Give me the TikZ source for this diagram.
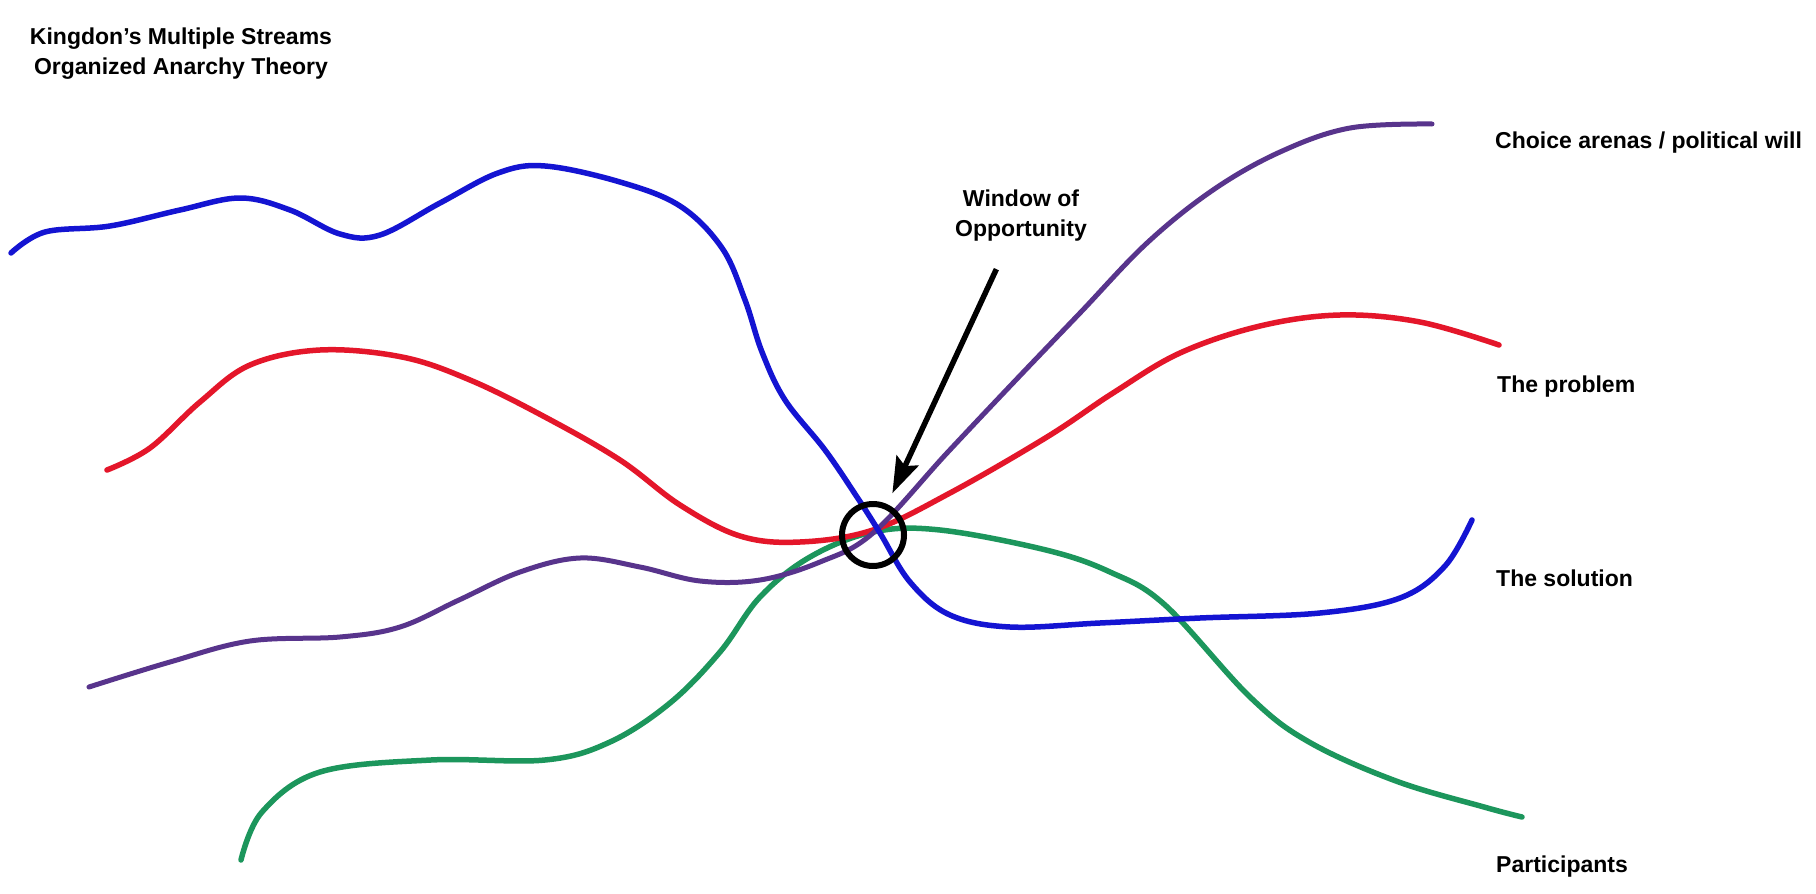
\documentclass[tikz,border=0pt]{standalone}
\usepackage{fontspec}
\setmainfont{Liberation Sans}
\usepackage{xcolor}
\usetikzlibrary{arrows.meta}

\definecolor{streamblue}{RGB}{20,20,210}
\definecolor{streamred}{RGB}{228,22,42}
\definecolor{streampurple}{RGB}{88,52,140}
\definecolor{streamgreen}{RGB}{28,150,92}

\begin{document}
\begin{tikzpicture}[
  x=1pt, y=-1pt,
  stream/.style  = {line width=5.5pt, line cap=round},
  lbl/.style     = {anchor=west, inner sep=0pt,
                    font=\fontsize{23}{29}\selectfont\bfseries},
  headtext/.style = {align=center, inner sep=0pt,
                    font=\fontsize{23}{30}\selectfont\bfseries},
  >={Stealth[length=36pt, width=24pt, inset=6pt]}
]
  \path[fill=white] (0,0) rectangle (1816,894);

  % the four streams
  \draw[stream, streamgreen] plot[smooth, tension=0.6] coordinates {
    (241,860) (262,812) (320,772) (431,760) (545,760) (610,742)
    (670,703) (720,652) (760,597) (810,557) (873,532) (940,530)
    (1046,550) (1110,572) (1165,605) (1250,697) (1309,742) (1396,781)
    (1484,807) (1522,817)};
  \draw[stream, streamred] plot[smooth, tension=0.6] coordinates {
    (107,470) (150,448) (200,402) (250,365) (320,350) (402,357)
    (470,380) (545,417) (620,460) (680,505) (740,536) (800,542)
    (873,530) (950,493) (1047,437) (1113,393) (1180,353) (1260,326)
    (1340,315) (1420,322) (1499,345)};
  \draw[stream, streampurple, line width=5pt] plot[smooth, tension=0.6] coordinates {
    (89,687) (170,662) (250,641) (340,637) (400,627) (459,600)
    (520,572) (580,558) (640,567) (700,581) (760,580) (820,562)
    (873,533) (947,453) (1013,383) (1080,313) (1147,243)
    (1213,190) (1280,152) (1350,128) (1432,124)};
  \draw[stream, streamblue] plot[smooth, tension=0.6] coordinates {
    (11,253) (45,232) (110,226) (180,210) (240,198) (290,210) (340,234)
    (380,235) (440,203) (498,173) (545,166) (620,182) (680,206)
    (722,248) (745,300) (762,352) (785,400) (825,450) (857,497)
    (880,533) (910,582) (950,615) (1010,627) (1100,623) (1200,618)
    (1320,613) (1400,598) (1445,566) (1472,520)};

  \node[headtext] (title) at (181,54)
      {Kingdon's Multiple Streams\\Organized Anarchy Theory};
  \node[headtext] (win) at (1021,216) {Window of\\Opportunity};
  \node[draw, circle, line width=6pt, minimum size=62pt, inner sep=0pt]
      (window) at (873,535) {};

  \node[lbl] (choice)  at (1495,143) {Choice arenas / political will};
  \node[lbl] (problem) at (1497,387) {The problem};
  \node[lbl] (solution) at (1496,578) {The solution};
  \node[lbl] (people)  at (1496,867) {Participants};

  \draw[->, line width=5.5pt, shorten <=30pt, shorten >=12pt] (win) -- (window);
\end{tikzpicture}
\end{document}
